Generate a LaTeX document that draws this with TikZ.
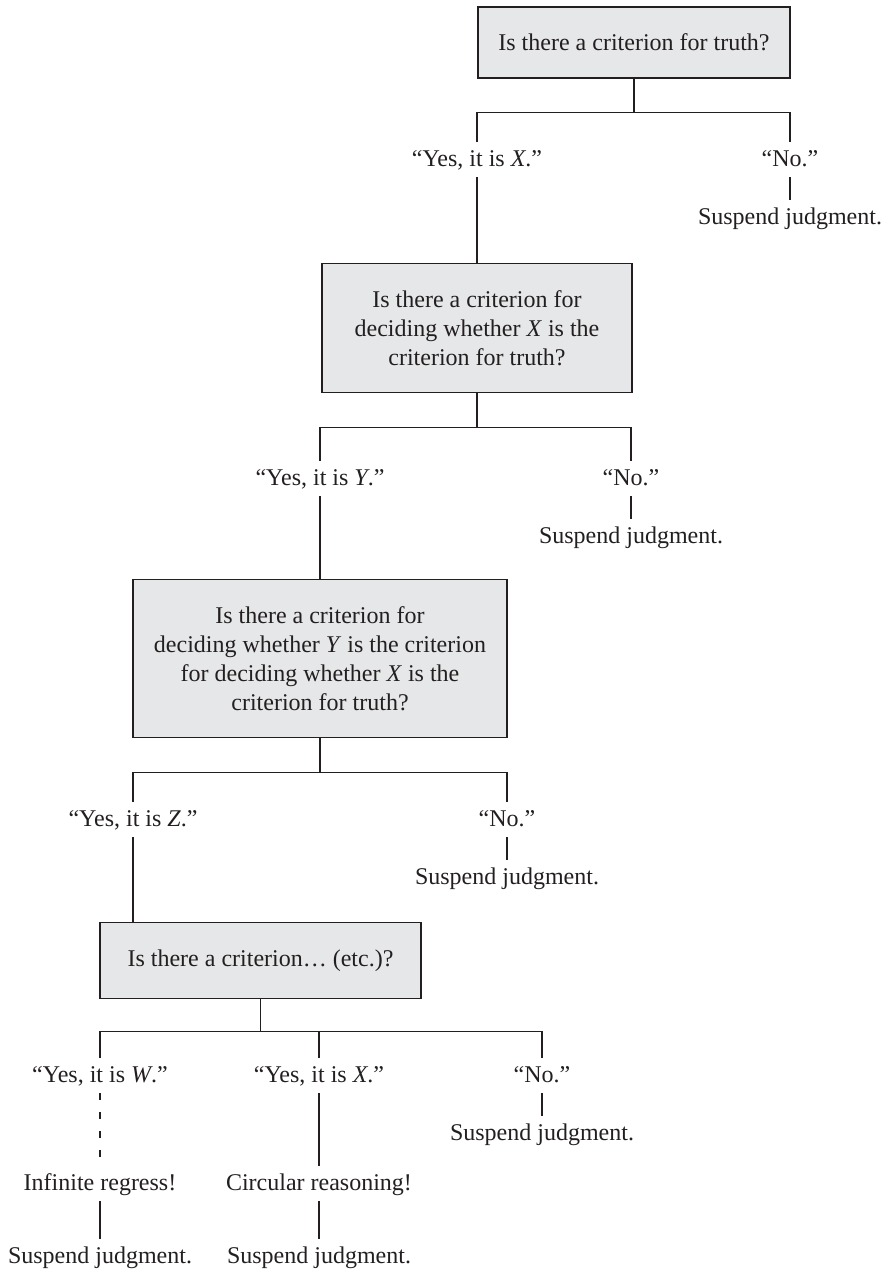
\documentclass[tikz,border=0pt]{standalone}
\usepackage{fontspec}
\setmainfont{Liberation Serif}
\usepackage{xcolor}
\usetikzlibrary{calc}
\definecolor{boxgray}{RGB}{230,231,232}
\definecolor{inkgray}{RGB}{35,31,32}
\tikzset{
  qbox/.style={draw=inkgray,fill=boxgray,line width=1.5pt,align=center,inner xsep=6pt,inner ysep=27pt},
  ans/.style={anchor=base,inner xsep=2pt,inner ysep=9pt,text height=15pt,text depth=2pt},
  link/.style={draw=inkgray,line width=1.2pt},
  regress/.style={link,dash pattern=on 7pt off 12pt},
}

\begin{document}
\begin{tikzpicture}[x=1pt,y=-1pt,every node/.style={font=\fontsize{24}{29}\selectfont,text=inkgray}]
  \useasboundingbox (0,0) rectangle (884,1271);
  % first question
  \node[qbox,minimum width=312pt] (q1) at (634,42.5) {Is there a criterion for truth?};
  \coordinate (j1) at ([yshift=-34pt]q1.south);
  \node[ans] (yes1) at (477,166) {“Yes, it is \textit{X}.”};
  \node[ans] (no1) at (790,166) {“No.”};
  \node[ans] (susp1) at (790,224) {Suspend judgment.};
  \draw[link] (q1.south) -- (j1);
  \draw[link] (yes1.north) |- (j1) -| (no1.north);
  \draw[link] (no1.south) -- (susp1.north);
  % second question
  \node[qbox,minimum width=310pt] (q2) at (477,328) {Is there a criterion for\\deciding whether \textit{X} is the\\criterion for truth?};
  \coordinate (j2) at ([yshift=-34pt]q2.south);
  \node[ans] (yes2) at (320,485) {“Yes, it is \textit{Y}.”};
  \node[ans] (no2) at (631,485) {“No.”};
  \node[ans] (susp2) at (631,543) {Suspend judgment.};
  \draw[link] (yes1.south) -- (q2.north);
  \draw[link] (q2.south) -- (j2);
  \draw[link] (yes2.north) |- (j2) -| (no2.north);
  \draw[link] (no2.south) -- (susp2.north);
  % third question
  \node[qbox,minimum width=374pt] (q3) at (320,658.5) {Is there a criterion for\\deciding whether \textit{Y} is the criterion\\for deciding whether \textit{X} is the\\criterion for truth?};
  \coordinate (j3) at ([yshift=-34pt]q3.south);
  \node[ans] (yes3) at (133,826) {“Yes, it is \textit{Z}.”};
  \node[ans] (no3) at (507,826) {“No.”};
  \node[ans] (susp3) at (507,884) {Suspend judgment.};
  \draw[link] (yes2.south) -- (q3.north);
  \draw[link] (q3.south) -- (j3);
  \draw[link] (yes3.north) |- (j3) -| (no3.north);
  \draw[link] (no3.south) -- (susp3.north);
  % and so on
  \node[qbox,minimum width=321pt] (q4) at (260.5,960.5) {Is there a criterion\ldots\ (etc.)?};
  \coordinate (j4) at ([yshift=-32pt]q4.south);
  \node[ans] (yes4) at (100,1082) {“Yes, it is \textit{W}.”};
  \node[ans] (back4) at (319,1082) {“Yes, it is \textit{X}.”};
  \node[ans] (no4) at (542,1082) {“No.”};
  \node[ans] (susp4) at (542,1140) {Suspend judgment.};
  \node[ans] (infinite) at (100,1190) {Infinite regress!};
  \node[ans] (circular) at (319,1190) {Circular reasoning!};
  \node[ans] (suspinf) at (100,1263) {Suspend judgment.};
  \node[ans] (suspcirc) at (319,1263) {Suspend judgment.};
  \draw[link] (yes3.south) -- (yes3.south |- q4.north);
  \draw[link] (q4.south) -- (j4);
  \draw[link] (yes4.north) |- (j4) -| (no4.north);
  \draw[link] (back4.north) -- (back4.north |- j4);
  \draw[link] (no4.south) -- (susp4.north);
  \draw[regress] (yes4.south) -- (infinite.north);
  \draw[link] (back4.south) -- (circular.north);
  \draw[link] (infinite.south) -- (suspinf.north);
  \draw[link] (circular.south) -- (suspcirc.north);
\end{tikzpicture}
\end{document}
